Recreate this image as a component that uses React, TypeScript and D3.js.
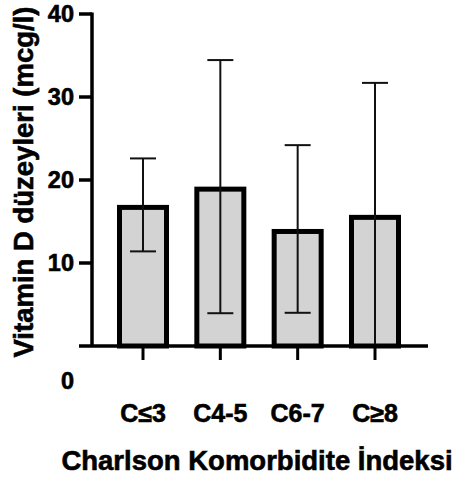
import * as d3 from 'd3';

const categories = ['C≤3', 'C4-5', 'C6-7', 'C≥8'];
const means = [17.0, 19.2, 14.1, 15.8];
const sds = [5.6, 15.25, 10.1, 15.9];
const yTicks = [10, 20, 30, 40];

const W = 453;
const H = 481;
const font = "'Liberation Sans', Arial, Helvetica, sans-serif";

export default function App() {
  const y = d3.scaleLinear().domain([0, 40]).range([346, 14]);
  const x = d3.scalePoint<string>().domain(categories).range([143, 375]);

  const axisX = 92;
  const barW = 52;
  const barStroke = 5;
  const capW = 26;

  return (
    <svg
      width={W}
      height={H}
      style={{ position: 'absolute', left: 0, top: 0, background: '#fff' }}
      fontFamily={font}
      fontWeight="bold"
    >
      {/* Bars */}
      {categories.map((c, i) => {
        const cx = x(c)!;
        return (
          <rect
            key={c}
            x={cx - barW / 2 + barStroke / 2}
            y={y(means[i]) + barStroke / 2}
            width={barW - barStroke}
            height={y(0) - y(means[i]) - barStroke / 2}
            fill="#d3d3d3"
            stroke="#000"
            strokeWidth={barStroke}
          />
        );
      })}

      {/* Error bars (mean ± SD, lower part clipped at 0) */}
      {categories.map((c, i) => {
        const cx = x(c)!;
        const hi = means[i] + sds[i];
        const lo = means[i] - sds[i];
        return (
          <g key={c} stroke="#111" strokeWidth={2}>
            <line x1={cx} x2={cx} y1={y(hi)} y2={y(Math.max(0, lo))} />
            <line x1={cx - capW / 2} x2={cx + capW / 2} y1={y(hi)} y2={y(hi)} />
            {lo > 0 && (
              <line x1={cx - capW / 2} x2={cx + capW / 2} y1={y(lo)} y2={y(lo)} />
            )}
          </g>
        );
      })}

      {/* Y axis */}
      <line x1={axisX} x2={axisX} y1={y(40) - 1.5} y2={y(0)} stroke="#000" strokeWidth={3.5} />
      <g stroke="#000" strokeWidth={0.6}>
        {yTicks.map((t) => (
          <g key={t}>
            <line x1={79} x2={axisX} y1={y(t)} y2={y(t)} strokeWidth={3.5} />
            <text x={74} y={y(t)} dy="0.36em" textAnchor="end" fontSize={23.5}>
              {t}
            </text>
          </g>
        ))}
        <text x={74} y={y(0) + 35} dy="0.36em" textAnchor="end" fontSize={23.5}>
          0
        </text>
      </g>

      {/* X axis */}
      <line x1={79} x2={428} y1={y(0)} y2={y(0)} stroke="#000" strokeWidth={3.5} />
      <g stroke="#000" strokeWidth={0.6}>
        {categories.map((c) => (
          <g key={c}>
            <line x1={x(c)!} x2={x(c)!} y1={y(0)} y2={y(0) + 14} strokeWidth={3} />
            <text x={x(c)!} y={422} textAnchor="middle" fontSize={25}>
              {c}
            </text>
          </g>
        ))}
      </g>

      {/* Axis titles */}
      <g stroke="#000" strokeWidth={0.6}>
        <text x={257} y={470} textAnchor="middle" fontSize={27.5}>
          Charlson Komorbidite İndeksi
        </text>
        <text
          transform={`translate(33, 182) rotate(-90)`}
          textAnchor="middle"
          fontSize={27.5}
        >
          Vitamin D düzeyleri (mcg/l)
        </text>
      </g>
    </svg>
  );
}
